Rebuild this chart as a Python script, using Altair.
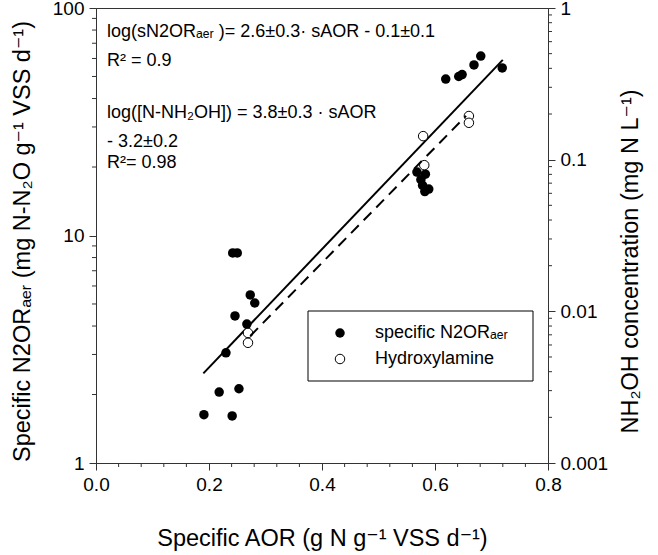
import altair as alt
import pandas as pd

FONT = "Liberation Sans, DejaVu Sans"
AX = "#333333"

# Specific AOR (g N g-1 VSS d-1) and specific N2OR_aer (mg N-N2O g-1 VSS d-1)
sAOR_n2or = [0.191, 0.218, 0.253, 0.241, 0.230, 0.267, 0.246, 0.281, 0.273, 0.242, 0.250,
             0.568, 0.575, 0.583, 0.578, 0.582, 0.589,
             0.619, 0.642, 0.648, 0.669, 0.681, 0.719]
sN2OR = [1.63, 2.05, 2.12, 1.61, 3.05, 4.08, 4.43, 5.05, 5.48, 8.38, 8.38,
         19.0, 17.6, 18.6, 16.6, 15.6, 16.0,
         48.7, 50.0, 51.0, 56.2, 61.5, 54.5]

# Specific AOR and NH2OH concentration (mg N L-1)
sAOR_nh2oh = [0.269, 0.269, 0.579, 0.581, 0.660, 0.660]
nh2oh = [0.0072, 0.0062, 0.143, 0.092, 0.194, 0.175]

# Fitted lines: log10(y) = slope * sAOR + intercept, drawn over the given sAOR range
n2or_fit = {"slope": 2.6, "intercept": -0.1, "x": [0.19, 0.72]}
nh2oh_fit = {"slope": 3.8, "intercept": -3.2, "x": [0.273, 0.655]}

x_ticks = [0.0, 0.2, 0.4, 0.6, 0.8]
left_ticks = [1, 10, 100]
right_ticks = [0.001, 0.01, 0.1, 1]

equation_lines = [
    "log(sN2ORₐₑᵣ )= 2.6±0.3· sAOR - 0.1±0.1",
    "R² = 0.9",
    "log([N-NH₂OH]) = 3.8±0.3 · sAOR",
    "- 3.2±0.2",
    "R²= 0.98",
]
legend_labels = ["specific N2ORₐₑᵣ", "Hydroxylamine"]

W, H = 452, 455

# minor tick positions
x_minor = [round(i * 0.04, 2) for i in range(21) if i % 5 != 0]
left_minor = [m * d for d in (1, 10) for m in range(2, 10)]
right_minor = [m * d for d in (0.001, 0.01, 0.1) for m in range(2, 10)]

xs = alt.Scale(domain=[0, 0.8], nice=False, zero=False)
yl = alt.Scale(type="log", domain=[1, 100], nice=False)
yr = alt.Scale(type="log", domain=[0.001, 1], nice=False)

common = dict(grid=False, tickSize=7, labelPadding=5, labelFontSize=19,
              titleFontSize=23.5, titleFontWeight="normal", domainColor=AX,
              tickColor=AX, labelColor="black", titleColor="black",
              labelFont=FONT, titleFont=FONT, titleBaseline="alphabetic",
              titleAlign="center", labelFlush=False)

x_axis = alt.Axis(values=x_ticks, format=".1f", title="Specific AOR (g N g⁻¹ VSS d⁻¹)",
                  titleX=W / 2, titleY=82, **common)
yl_axis = alt.Axis(values=left_ticks, format="~g", orient="left",
                   title="Specific N2ORₐₑᵣ (mg N-N₂O g⁻¹ VSS d⁻¹)",
                   titleAngle=270, titleX=-67, titleY=233, **common)
yr_axis = alt.Axis(values=right_ticks, format="~g", orient="right",
                   title="NH₂OH concentration (mg N L⁻¹)",
                   titleAngle=270, titleX=89, titleY=253, **common)


def fit_frame(fit, col):
    xv = fit["x"]
    return pd.DataFrame({"aor": xv,
                         col: [10 ** (fit["slope"] * v + fit["intercept"]) for v in xv]})


df_n2or = pd.DataFrame({"aor": sAOR_n2or, "n2or": sN2OR})
df_nh2oh = pd.DataFrame({"aor": sAOR_nh2oh, "nh2oh": nh2oh})
one = pd.DataFrame({"k": [0]})

X = alt.X("aor:Q", scale=xs, axis=x_axis)

filled = alt.Chart(df_n2or).mark_circle(size=90, color="black", opacity=1).encode(
    x=X, y=alt.Y("n2or:Q", scale=yl, axis=yl_axis),
)
solid = alt.Chart(fit_frame(n2or_fit, "n2or")).mark_line(color="black", strokeWidth=2).encode(
    x=X, y=alt.Y("n2or:Q", scale=yl, axis=yl_axis),
)
left_minor_ticks = alt.Chart(pd.DataFrame({"n2or": left_minor})).mark_rule(color=AX).encode(
    y=alt.Y("n2or:Q", scale=yl, axis=yl_axis), x=alt.value(-4), x2=alt.value(0)
)
x_minor_ticks = alt.Chart(pd.DataFrame({"aor": x_minor})).mark_rule(color=AX).encode(
    x=X, y=alt.value(H), y2=alt.value(H + 4)
)

# equation annotations
eq_y = [29, 58, 110, 139, 160]
eq_layers = [
    alt.Chart(one).mark_text(text=t, align="left", baseline="alphabetic", font=FONT,
                             fontSize=18, color="black").encode(x=alt.value(11), y=alt.value(yy))
    for t, yy in zip(equation_lines, eq_y)
]

# legend
legend_box = alt.Chart(one).mark_rect(fill="white", stroke="black", strokeWidth=1).encode(
    x=alt.value(212), x2=alt.value(437), y=alt.value(303), y2=alt.value(373)
)
leg_filled = alt.Chart(one).mark_circle(size=90, color="black", opacity=1).encode(
    x=alt.value(244), y=alt.value(325)
)
leg_open = alt.Chart(one).mark_point(shape="circle", size=90, filled=True, fill="white",
                                     stroke="black", strokeWidth=1, opacity=1).encode(
    x=alt.value(244), y=alt.value(351)
)
leg_text = [
    alt.Chart(one).mark_text(text=t, align="left", baseline="middle", font=FONT,
                             fontSize=18, color="black").encode(x=alt.value(279), y=alt.value(yy))
    for t, yy in zip(legend_labels, [325, 351])
]

left_group = alt.layer(filled, solid, left_minor_ticks, x_minor_ticks, *eq_layers,
                       legend_box, leg_filled, leg_open, *leg_text)

YR = alt.Y("nh2oh:Q", scale=yr, axis=yr_axis)
open_pts = alt.Chart(df_nh2oh).mark_point(shape="circle", size=90, filled=True, fill="white",
                                          stroke="black", strokeWidth=1, opacity=1).encode(
    x=X, y=YR,
)
dashed = alt.Chart(fit_frame(nh2oh_fit, "nh2oh")).mark_line(
    color="black", strokeWidth=2, strokeDash=[11, 7]).encode(x=X, y=YR)
right_minor_ticks = alt.Chart(pd.DataFrame({"nh2oh": right_minor})).mark_rule(color=AX).encode(
    y=YR, x=alt.value(W), x2=alt.value(W + 4)
)
right_group = alt.layer(open_pts, dashed, right_minor_ticks)

chart = (
    alt.layer(left_group, right_group)
    .resolve_scale(y="independent")
    .properties(width=W, height=H,
                padding={"left": 96, "top": 8, "right": 110, "bottom": 92},
                autosize=alt.AutoSizeParams(type="none"))
    .configure_view(stroke=AX, strokeWidth=1)
)

chart.save("out.html", embed_options={"renderer": "svg", "actions": False})
